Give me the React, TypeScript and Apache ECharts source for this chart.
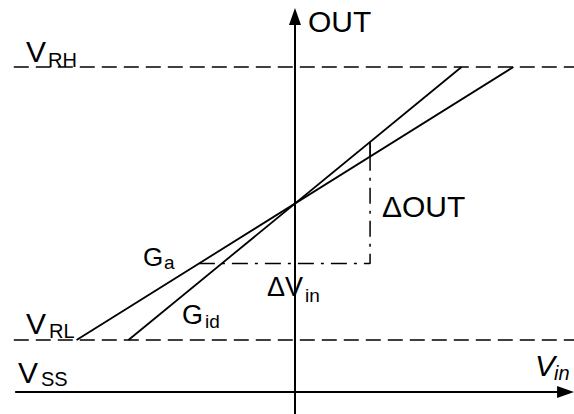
import React, { useEffect, useRef } from "react";
import * as echarts from "echarts";

// Logical coordinates: Vin (horizontal), OUT (vertical); origin where the two gain lines cross.
const X_RANGE = [-2.161, 2.044];
const Y_RANGE = [-1.542, 1.491];
const V_RH = 1;
const V_RL = -1;
const V_SS = -1.381;
const LEVEL_START = -2.06;
const VIN_AXIS_START = -2.05;
const VIN_AXIS_END = 1.982;
const OUT_AXIS_START = -1.542;
const OUT_AXIS_END = 1.37;
const G_ID_LINE = [[-1.22, -1], [1.22, 1]];
const G_A_LINE = [[-1.6, -1], [1.6, 1]];
const DELTA_VIN_PATH = [[-0.704, -0.44], [0.55, -0.44], [0.55, 0.344]];
const DELTA_OUT_TICK = [[0.55, 0.344], [0.55, 0.451]];

const FONT = "'Liberation Sans', Arial, Helvetica, sans-serif";

function txt(text: string, x: number, baseline: number, size: number, italic = false) {
  return {
    type: "text",
    x,
    y: baseline - 0.35 * size,
    silent: true,
    style: {
      text,
      fill: "#000",
      fontSize: size,
      fontFamily: FONT,
      fontStyle: italic ? "italic" : "normal",
      align: "left",
      verticalAlign: "middle",
      textAlign: "left",
      textVerticalAlign: "middle",
    },
  };
}

export default function App() {
  const ref = useRef<HTMLDivElement>(null);
  useEffect(() => {
    if (!ref.current) return;
    const chart = echarts.init(ref.current, null, { renderer: "svg" });
    const black = "#000";
    const seg = (name: string, data: number[][], width: number, type: any) => ({
      name,
      type: "line",
      data,
      symbol: "none",
      silent: true,
      lineStyle: { color: black, width, type },
      z: 2,
    });
    const arrow = (name: string, from: number[], to: number[]) => ({
      name,
      type: "line",
      data: [],
      silent: true,
      markLine: {
        silent: true,
        animation: false,
        symbol: ["none", "triangle"],
        symbolSize: [12, 17],
        label: { show: false },
        lineStyle: { color: black, width: 2, type: "solid" },
        itemStyle: { color: black },
        emphasis: { disabled: true },
        data: [[{ coord: from }, { coord: to }]],
      },
    });
    chart.setOption({
      animation: false,
      grid: { left: 0, right: 0, top: 0, bottom: 0 },
      xAxis: { type: "value", min: X_RANGE[0], max: X_RANGE[1], show: false },
      yAxis: { type: "value", min: Y_RANGE[0], max: Y_RANGE[1], show: false },
      series: [
        seg("VRH", [[LEVEL_START, V_RH], [X_RANGE[1], V_RH]], 1.7, [15, 7]),
        seg("VRL", [[LEVEL_START, V_RL], [X_RANGE[1], V_RL]], 1.7, [15, 7]),
        seg("Gid", G_ID_LINE, 1.8, "solid"),
        seg("Ga", G_A_LINE, 1.8, "solid"),
        seg("dVin", DELTA_VIN_PATH, 1.5, [16, 7, 3, 7]),
        seg("dOut", DELTA_OUT_TICK, 1.8, "solid"),
        arrow("VinAxis", [VIN_AXIS_START, V_SS], [VIN_AXIS_END, V_SS]),
        arrow("OutAxis", [0, OUT_AXIS_START], [0, OUT_AXIS_END]),
      ],
      graphic: [
        txt("OUT", 308, 32, 30),
        txt("V", 26, 62, 30),
        txt("RH", 48, 67, 20),
        txt("V", 26, 334, 30),
        txt("RL", 49, 338, 20),
        txt("V", 18, 383, 30),
        txt("SS", 41, 386, 20),
        txt("G", 143, 266, 26),
        txt("a", 164, 269, 19),
        txt("G", 182, 324, 27),
        txt("id", 205, 328, 19),
        txt("ΔV", 267, 296, 27),
        txt("in", 305, 302, 19),
        txt("ΔOUT", 382, 217, 30),
        txt("V", 535, 376, 30, true),
        txt("in", 554, 380, 20, true),
      ],
    });
    return () => chart.dispose();
  }, []);
  return (
    <div
      ref={ref}
      style={{ position: "fixed", left: 0, top: 0, width: 574, height: 414, background: "#fff" }}
    />
  );
}
